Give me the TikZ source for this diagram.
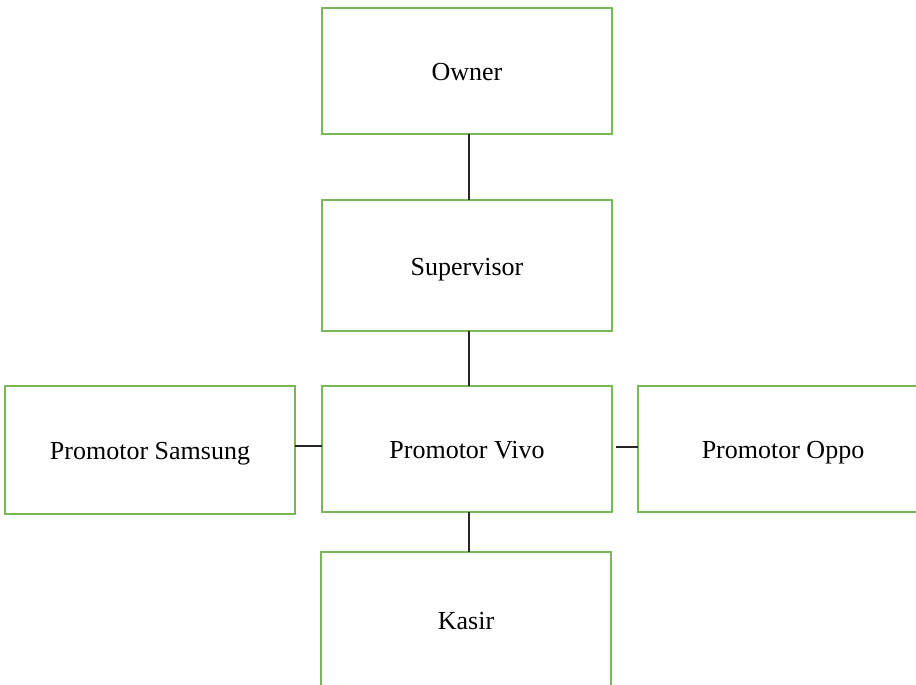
\documentclass[tikz,border=0pt]{standalone}
\usepackage{fontspec}
\setmainfont{Liberation Serif}
\definecolor{boxgreen}{HTML}{7AB756}
\begin{document}
\begin{tikzpicture}[x=1pt,y=-1pt,
  orgbox/.style={draw=boxgreen, line width=2.8pt, rectangle, minimum width=290pt, inner sep=0pt, outer sep=0pt, font=\fontsize{26}{30}\selectfont, text=black, text height=19.5pt, text depth=0pt},
  link/.style={draw=black!85, line width=1.1pt}]
\clip (0,0) rectangle (916,685);
\fill[white] (0,0) rectangle (916,685);
\node[orgbox, minimum height=126pt] (owner) at (467,71) {Owner};
\node[orgbox, minimum height=131pt] (sup) at (467,265.5) {Supervisor};
\node[orgbox, minimum height=126pt] (vivo) at (467,449) {Promotor Vivo};
\node[orgbox, minimum height=128pt] (sams) at (150,450) {Promotor Samsung};
\node[orgbox, minimum height=126pt] (oppo) at (783,449) {Promotor Oppo};
\node[orgbox, minimum height=136pt] (kasir) at (466,620) {Kasir};
\draw[link] ([xshift=2pt]owner.south) -- ([xshift=2pt]owner.south |- sup.north);
\draw[link] ([xshift=2pt]sup.south) -- ([xshift=2pt]sup.south |- vivo.north);
\draw[link] ([yshift=4pt]sams.east) -- ([yshift=4pt]sams.east -| vivo.west);
\draw[link] ([xshift=4pt,yshift=2pt]vivo.east) -- ([yshift=2pt]vivo.east -| oppo.west);
\draw[link] ([xshift=2pt]vivo.south) -- ([xshift=2pt]vivo.south |- kasir.north);
\end{tikzpicture}
\end{document}
